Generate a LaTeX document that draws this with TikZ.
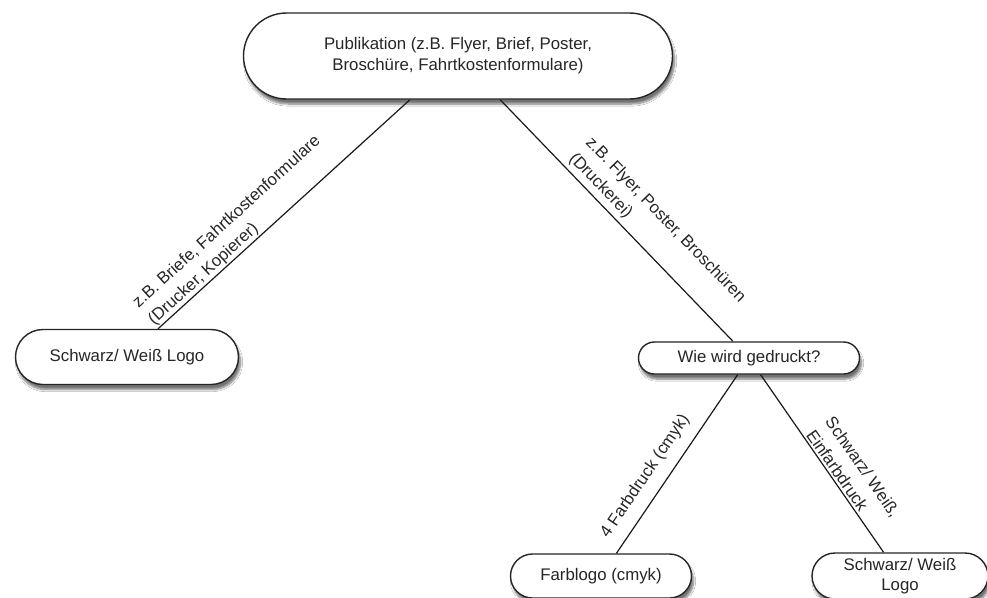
\documentclass[tikz,border=0pt]{standalone}
\usepackage{fontspec}
\setmainfont{Liberation Sans}
\usetikzlibrary{shapes.misc,shadows.blur}
\begin{document}
\begin{tikzpicture}[x=1pt,y=-1pt,
  every node/.style={font=\fontsize{16.8}{21}\selectfont, text=black!85},
  capsule/.style={rounded rectangle, draw=black!85, line width=1.4pt, fill=white,
    align=center, inner sep=2pt,
    blur shadow={shadow xshift=2pt, shadow yshift=-5pt, shadow blur steps=8, shadow opacity=55}},
  conn/.style={draw=black!90, line width=1.2pt},
  lab/.style={sloped, align=left, inner sep=0pt, font=\fontsize{16.8}{23}\selectfont}]
\useasboundingbox[fill=white] (0,0) rectangle (987,597);
\node[capsule, minimum width=433pt, minimum height=86pt] (pub) at (458,56)
  {Publikation (z.B. Flyer, Brief, Poster,\\Broschüre, Fahrtkostenformulare)};
\node[capsule, minimum width=227pt, minimum height=55pt] (swl) at (127,357)
  {Schwarz/ Weiß Logo};
\node[capsule, minimum width=225pt, minimum height=32pt] (wie) at (749,358)
  {Wie wird gedruckt?};
\node[capsule, minimum width=185pt, minimum height=44pt] (farb) at (601,576)
  {Farblogo (cmyk)};
\node[capsule, minimum width=180pt, minimum height=46pt, font=\fontsize{16.8}{19.5}\selectfont] (swr) at (900,576)
  {Schwarz/ Weiß\\Logo};
\draw[conn] (swl) -- node[lab, pos=0.36, above=1pt] {z.B. Briefe, Fahrtkostenformulare\\(Drucker, Kopierer)} (pub);
\draw[conn] (pub) -- node[lab, pos=0.60, above=4pt] {z.B. Flyer, Poster, Broschüren\\(Druckerei)} (wie);
\draw[conn] (farb) -- node[lab, pos=0.37, above=11pt] {4 Farbdruck (cmyk)} (wie);
\draw[conn] (wie) -- node[lab, pos=0.62, above=2pt] {Schwarz/ Weiß,\\Einfarbdruck} (swr);
\end{tikzpicture}
\end{document}
